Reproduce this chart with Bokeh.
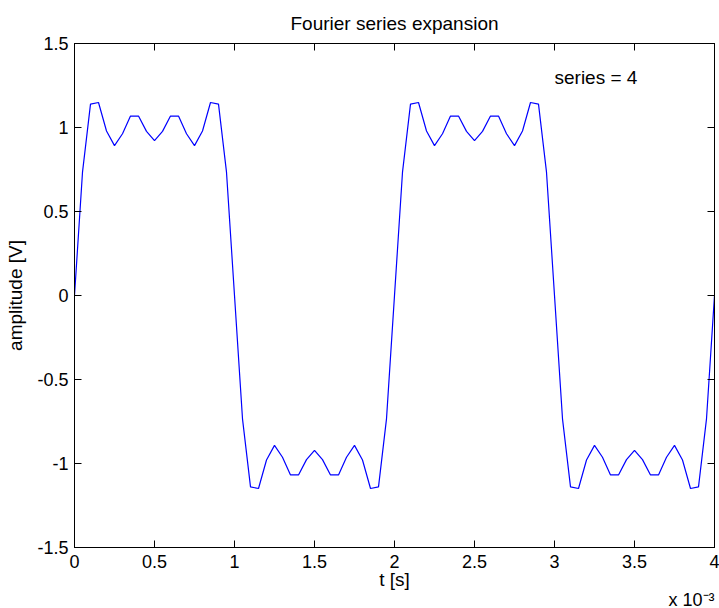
from bokeh.plotting import figure
from bokeh.models import Range1d, LinearAxis, FixedTicker, CustomJSTickFormatter, Label, Title
from bokeh.embed import file_html
from bokeh.resources import INLINE

# ---- data (time in units of 1e-3 s) ----
t_ms = [0.00, 0.05, 0.10, 0.15, 0.20, 0.25, 0.30, 0.35, 0.40, 0.45,
        0.50, 0.55, 0.60, 0.65, 0.70, 0.75, 0.80, 0.85, 0.90, 0.95,
        1.00, 1.05, 1.10, 1.15, 1.20, 1.25, 1.30, 1.35, 1.40, 1.45,
        1.50, 1.55, 1.60, 1.65, 1.70, 1.75, 1.80, 1.85, 1.90, 1.95,
        2.00, 2.05, 2.10, 2.15, 2.20, 2.25, 2.30, 2.35, 2.40, 2.45,
        2.50, 2.55, 2.60, 2.65, 2.70, 2.75, 2.80, 2.85, 2.90, 2.95,
        3.00, 3.05, 3.10, 3.15, 3.20, 3.25, 3.30, 3.35, 3.40, 3.45,
        3.50, 3.55, 3.60, 3.65, 3.70, 3.75, 3.80, 3.85, 3.90, 3.95,
        4.00]

amplitude = [0.000, 0.734, 1.139, 1.149, 0.979, 0.892, 0.963, 1.068, 1.068, 0.977,
             0.922, 0.977, 1.068, 1.068, 0.963, 0.892, 0.979, 1.149, 1.139, 0.734,
             0.000, -0.734, -1.139, -1.149, -0.979, -0.892, -0.963, -1.068, -1.068, -0.977,
             -0.922, -0.977, -1.068, -1.068, -0.963, -0.892, -0.979, -1.149, -1.139, -0.734,
             0.000, 0.734, 1.139, 1.149, 0.979, 0.892, 0.963, 1.068, 1.068, 0.977,
             0.922, 0.977, 1.068, 1.068, 0.963, 0.892, 0.979, 1.149, 1.139, 0.734,
             0.000, -0.734, -1.139, -1.149, -0.979, -0.892, -0.963, -1.068, -1.068, -0.977,
             -0.922, -0.977, -1.068, -1.068, -0.963, -0.892, -0.979, -1.149, -1.139, -0.734,
             0.000]

x_ticks = [0, 0.5, 1, 1.5, 2, 2.5, 3, 3.5, 4]
y_ticks = [-1.5, -1, -0.5, 0, 0.5, 1, 1.5]

title_text = "Fourier series expansion"
x_label = "t [s]"
y_label = "amplitude [V]"
x_scale_text = "x 10\u207b\u00b3"
annot_text = "series = 4"
annot_x, annot_y = 3.0, 1.3

FONT = "Liberation Sans"

p = figure(width=719, height=608, output_backend="svg", toolbar_location=None,
           x_range=Range1d(0, 4), y_range=Range1d(-1.5, 1.5),
           min_border_left=74, min_border_right=5, min_border_top=43,
           min_border_bottom=61)
p.xgrid.visible = False
p.ygrid.visible = False
p.background_fill_color = "white"
p.border_fill_color = "white"
p.outline_line_color = "black"
p.outline_line_width = 1

p.title.text = title_text
p.title.align = "center"
p.title.text_font = FONT
p.title.text_font_size = "19px"
p.title.text_font_style = "normal"
p.title.text_color = "black"
p.title.standoff = 20

fmt = CustomJSTickFormatter(code="return String(tick);")

def style_axis(ax, ticks, show_labels, standoff):
    ax.ticker = FixedTicker(ticks=ticks)
    ax.formatter = fmt
    ax.major_tick_in = 7
    ax.major_tick_out = 0
    ax.minor_tick_in = 0
    ax.minor_tick_out = 0
    ax.axis_line_color = "black"
    ax.major_tick_line_color = "black"
    ax.major_label_standoff = standoff
    ax.major_label_text_font = FONT
    if show_labels:
        ax.major_label_text_color = "black"
        ax.major_label_text_font_size = "18px"
    else:
        ax.major_label_text_color = None
        ax.major_label_text_font_size = "1px"
    ax.axis_label_text_font = FONT
    ax.axis_label_text_font_size = "19px"
    ax.axis_label_text_font_style = "normal"
    ax.axis_label_text_color = "black"

xa = p.xaxis[0]
ya = p.yaxis[0]
style_axis(xa, x_ticks, True, 7)
style_axis(ya, y_ticks, True, 6)
xa.axis_label = x_label
xa.axis_label_standoff = -2
ya.axis_label = y_label
ya.axis_label_standoff = 8

top_ax = LinearAxis()
right_ax = LinearAxis()
style_axis(top_ax, x_ticks, False, 0)
style_axis(right_ax, y_ticks, False, 0)
p.add_layout(top_ax, "above")
p.add_layout(right_ax, "right")

scale_title = Title(text=x_scale_text, align="right", text_font=FONT,
                    text_font_size="18px", text_font_style="normal",
                    text_color="black", standoff=-10)
p.add_layout(scale_title, "below")

p.line(t_ms, amplitude, line_color="#0000ff", line_width=1.2)

p.add_layout(Label(x=annot_x, y=annot_y, text=annot_text, text_align="left",
                   text_baseline="middle", text_font_size="19px",
                   text_font=FONT, text_color="black"))

open("out.html", "w").write(file_html(p, INLINE))
